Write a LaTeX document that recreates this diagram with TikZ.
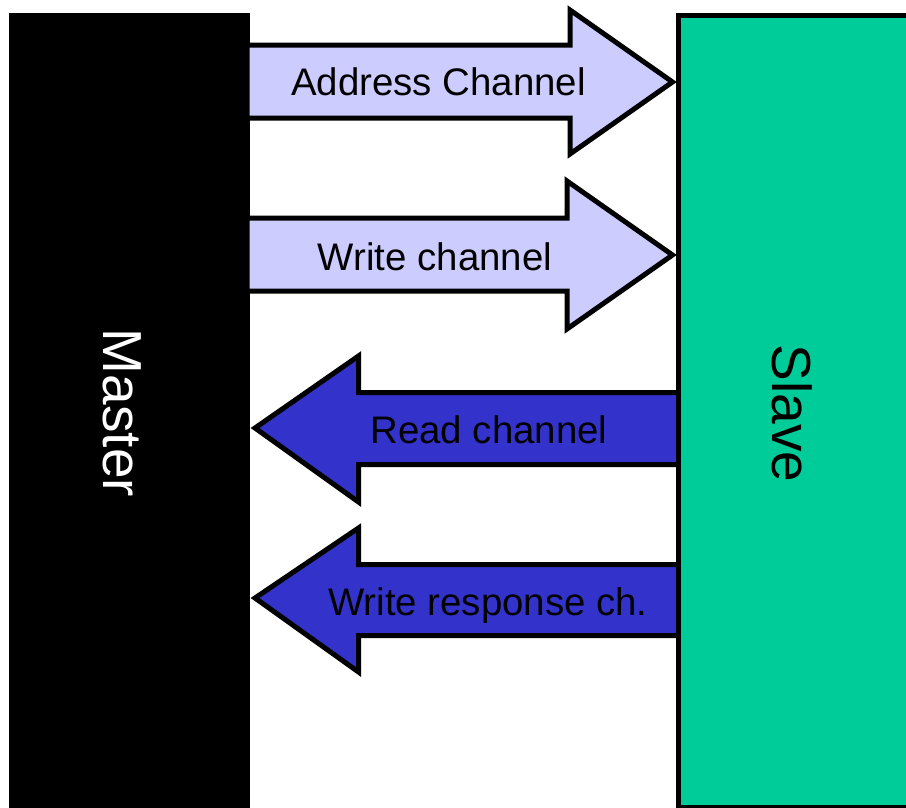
\documentclass[tikz,border=0pt]{standalone}
\usepackage{fontspec}
\setmainfont{Liberation Sans}
\definecolor{lav}{HTML}{CCCCFF}
\definecolor{blu}{HTML}{3333CC}
\definecolor{grn}{HTML}{00CC99}
\begin{document}
\begin{tikzpicture}[x=1pt,y=-1pt,
  arrowshape/.style={draw=black,line width=5pt,miter limit=10,line join=miter},
  lbl/.style={anchor=base,inner sep=0pt,font=\fontsize{38.4}{40}\selectfont},
  big/.style={anchor=base,inner sep=0pt,rotate=-90,font=\fontsize{55}{60}\selectfont},
  block/.style={rectangle,inner sep=0pt,outer sep=0pt}]
\useasboundingbox (0,0) rectangle (906,807);
% Master
\node[block,fill=black,minimum width=241pt,minimum height=800pt] (master) at (129.5,413) {};
% arrows
\path[arrowshape,fill=lav] (247,45) -- (570,45) -- (570,10) -- (672.5,82) -- (570,154) -- (570,118) -- (247,118) -- cycle;
\path[arrowshape,fill=lav] (247,218) -- (567,218) -- (567,181) -- (672.5,255) -- (567,329) -- (567,291) -- (247,291) -- cycle;
\path[arrowshape,fill=blu] (680,392.5) -- (358.5,392.5) -- (358.5,356) -- (255,428) -- (358.5,502) -- (358.5,464.5) -- (680,464.5) -- cycle;
\path[arrowshape,fill=blu] (680,564.5) -- (358.5,564.5) -- (358.5,528) -- (255,598) -- (358.5,672) -- (358.5,635.5) -- (680,635.5) -- cycle;
% Slave
\node[block,draw=black,line width=5pt,fill=grn,minimum width=234pt,minimum height=791.5pt] (slave) at (795,411.25) {};
% labels
\node[lbl] (l1) at (438.5,95) {Address Channel};
\node[lbl] (l2) at (435,270) {Write channel};
\node[lbl] (l3) at (489,443.3) {Read channel};
\node[lbl] (l4) at (488,615) {Write response ch.};
\node[big,text=white] (mt) at (103,413) {Master};
\node[big,text=black] (st) at (772,413.5) {Slave};
\end{tikzpicture}
\end{document}
